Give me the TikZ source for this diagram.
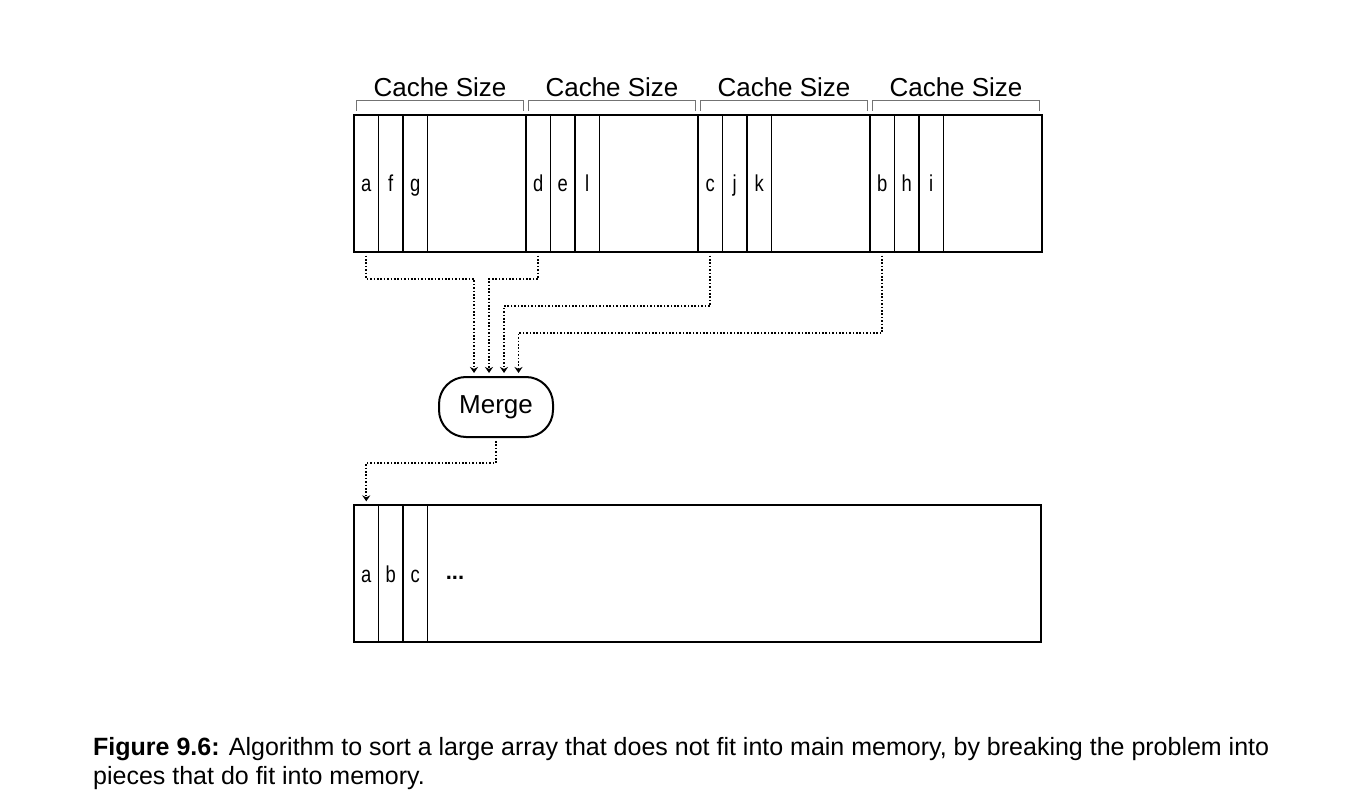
\documentclass[tikz,border=0pt]{standalone}
\usepackage{fontspec}
\setmainfont{Liberation Sans}
\newfontfamily\narrowfont[FakeStretch=0.8]{Liberation Sans}
\usetikzlibrary{arrows.meta}

\tikzset{
    block/.style={draw, line width=2pt, minimum width=172pt, minimum height=137pt, inner sep=0pt},
    cell/.style={draw, line width=1.3pt, minimum width=24.5pt, minimum height=137pt, inner sep=0pt,
        text height=22pt, text depth=5pt, font=\narrowfont\fontsize{23}{26}\selectfont},
    brace/.style={draw=black!55, line width=1pt},
    sizelabel/.style={font=\fontsize{26}{30}\selectfont, inner sep=0pt},
    merge/.style={draw, line width=2pt, rounded corners=27pt, minimum width=114pt, minimum height=60pt,
        font=\fontsize{26}{30}\selectfont},
    flow/.style={line width=1.6pt, dash pattern=on 1.6pt off 1.8pt,
        -{Stealth[length=6pt, width=8pt, inset=2pt]}, shorten <=3pt, shorten >=3pt}
}

\begin{document}
\begin{tikzpicture}[x=1pt, y=-1pt]
    \useasboundingbox (0,0) rectangle (1362,810);

    \node[sizelabel] (s1) at (440,87) {Cache Size};
    \node[sizelabel] (s2) at (612,87) {Cache Size};
    \node[sizelabel] (s3) at (784,87) {Cache Size};
    \node[sizelabel] (s4) at (956,87) {Cache Size};
    \draw[brace] (356,111) |- (523,101) -- (523,111);
    \draw[brace] (528,111) |- (695,101) -- (695,111);
    \draw[brace] (700,111) |- (867,101) -- (867,111);
    \draw[brace] (872,111) |- (1039,101) -- (1039,111);

    \node[block] (b1) at (440,183.5) {};
    \node[block] (b2) at (612,183.5) {};
    \node[block] (b3) at (784,183.5) {};
    \node[block] (b4) at (956,183.5) {};

    \node[cell] (a) at (366.25,183.5) {a};
    \node[cell] (f) at (390.75,183.5) {f};
    \node[cell] (g) at (415.25,183.5) {g};
    \node[cell] (d) at (538.25,183.5) {d};
    \node[cell] (e) at (562.75,183.5) {e};
    \node[cell] (l) at (587.25,183.5) {l};
    \node[cell] (c) at (710.25,183.5) {c};
    \node[cell] (j) at (734.75,183.5) {j};
    \node[cell] (k) at (759.25,183.5) {k};
    \node[cell] (b) at (882.25,183.5) {b};
    \node[cell] (h) at (906.75,183.5) {h};
    \node[cell] (i) at (931.25,183.5) {i};

    \node[merge] (merge) at (496,407) {Merge};

    \coordinate (ka) at (474,279);
    \coordinate (kd) at (489,279);
    \coordinate (kc) at (504,306);
    \coordinate (kb) at (518.5,333);
    \draw[flow] (a.south) |- (ka) -- (ka |- merge.north);
    \draw[flow] (d.south) |- (kd) -- (kd |- merge.north);
    \draw[flow] (c.south) |- (kc) -- (kc |- merge.north);
    \draw[flow] (b.south) |- (kb) -- (kb |- merge.north);

    \node[draw, line width=2pt, minimum width=687pt, minimum height=137pt, inner sep=0pt] (out) at (697.5,573.5) {};
    \node[cell] (oa) at (366.25,573.5) {a};
    \node[cell] (ob) at (390.75,573.5) {b};
    \node[cell] (oc) at (415.25,573.5) {c};
    \node[inner sep=0pt, font=\bfseries\fontsize{22}{24}\selectfont] (dots) at (455,578) {...};

    \coordinate (kout) at (366.25,463);
    \draw[flow] (merge.south) |- (kout) -- (oa.north);

    \node[anchor=north west, align=left, inner sep=0pt, font=\fontsize{25}{29}\selectfont] (caption) at (93,737)
        {\textbf{Figure 9.6:} Algorithm to sort a large array that does not fit into main memory, by breaking the problem into\\
        pieces that do fit into memory.};
\end{tikzpicture}
\end{document}
